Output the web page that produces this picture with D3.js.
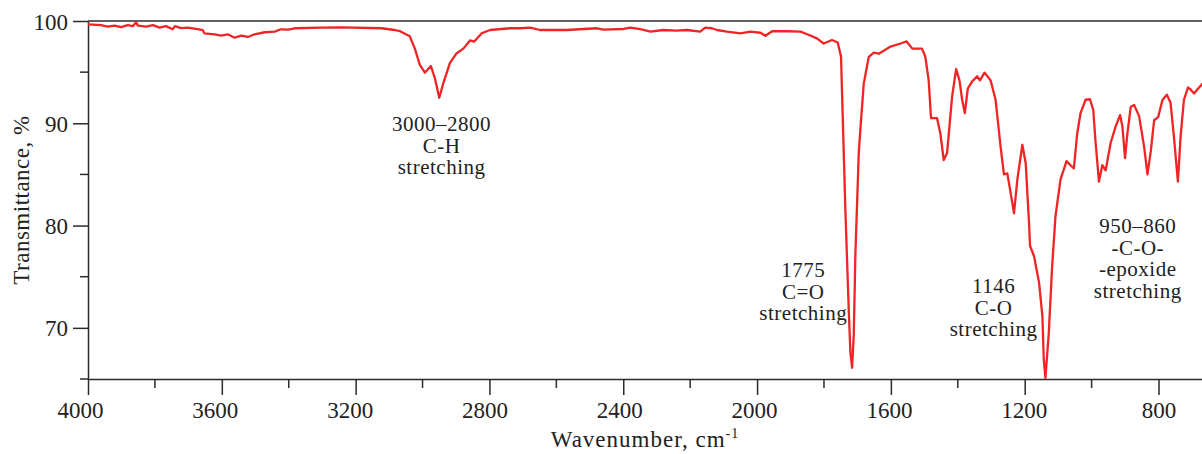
<!DOCTYPE html>
<html>
<head>
<meta charset="utf-8">
<script src="https://cdn.jsdelivr.net/npm/d3@7"></script>
<style>
  body { margin: 0; background: #fff; }
  svg text { font-family: "Liberation Serif", "DejaVu Serif", serif; fill: #222; }
</style>
</head>
<body>
<div id="chart"></div>
<script>
const width = 1202;
const height = 454;
const margin = {top: 21, right: 0, bottom: 75, left: 88};

// spectrum
const wavenumber = [4000, 3961, 3941, 3921, 3901, 3881, 3866, 3856, 3851, 3826, 3806, 3786, 3767, 3747, 3740, 3722, 3702, 3672, 3657, 3652,
  3622, 3602, 3582, 3562, 3542, 3522, 3502, 3472, 3442, 3423, 3402, 3382, 3303, 3243, 3123, 3083, 3067, 3038, 3023, 3008,
  2993, 2975, 2963, 2950, 2938, 2918, 2898, 2878, 2858, 2846, 2823, 2798, 2738, 2708, 2678, 2649, 2569, 2479, 2459, 2399,
  2379, 2349, 2319, 2280, 2240, 2210, 2170, 2155, 2135, 2120, 2090, 2050, 2020, 1990, 1975, 1955, 1910, 1870, 1850, 1821,
  1801, 1776, 1759, 1749, 1746, 1736, 1726, 1721, 1716, 1711, 1706, 1696, 1691, 1681, 1666, 1651, 1636, 1601, 1571, 1553,
  1536, 1507, 1497, 1487, 1480, 1462, 1452, 1442, 1432, 1417, 1405, 1395, 1387, 1379, 1370, 1357, 1342, 1334, 1320, 1302,
  1287, 1272, 1262, 1252, 1242, 1232, 1222, 1207, 1197, 1187, 1184, 1172, 1157, 1147, 1143, 1138, 1128, 1118, 1108, 1093,
  1075, 1063, 1053, 1043, 1033, 1018, 1005, 995, 988, 978, 968, 958, 943, 928, 915, 908, 900, 893, 883, 873,
  858, 843, 833, 823, 813, 801, 788, 775, 764, 754, 742, 734, 724, 712, 704, 694, 684, 668];
const transmittance = [99.68, 99.6, 99.45, 99.55, 99.4, 99.6, 99.5, 99.87, 99.55, 99.45, 99.6, 99.35, 99.5, 99.2, 99.5, 99.3, 99.35, 99.2, 99.1, 98.8,
  98.7, 98.56, 98.7, 98.37, 98.56, 98.44, 98.7, 98.9, 98.96, 99.19, 99.15, 99.29, 99.35, 99.38, 99.29, 99.12, 99.0, 98.5, 97.3, 95.7,
  94.95, 95.6, 94.4, 92.5, 93.9, 95.9, 96.85, 97.3, 98.1, 97.98, 98.8, 99.12, 99.29, 99.29, 99.35, 99.12, 99.12, 99.29, 99.15, 99.22,
  99.35, 99.2, 98.96, 99.12, 99.05, 99.12, 98.96, 99.35, 99.29, 99.12, 98.96, 98.8, 98.96, 98.85, 98.56, 99.0, 99.0, 98.96, 98.7, 98.3,
  97.8, 98.14, 97.9, 96.5, 93.0, 81.5, 71.8, 67.6, 66.1, 69.3, 77.3, 87.1, 89.5, 93.9, 96.5, 96.9, 96.8, 97.5, 97.8, 98.0,
  97.3, 97.3, 96.5, 94.2, 90.5, 90.5, 89.0, 86.4, 87.1, 92.6, 95.3, 94.2, 92.3, 91.0, 93.4, 94.1, 94.6, 94.2, 94.95, 94.2,
  92.3, 87.7, 85.0, 85.1, 83.2, 81.2, 84.5, 87.9, 86.1, 80.2, 78.0, 77.0, 74.4, 71.1, 66.9, 65.1, 69.5, 76.0, 80.9, 84.5,
  86.3, 85.9, 85.6, 89.0, 91.0, 92.3, 92.35, 91.3, 88.1, 84.3, 85.9, 85.4, 88.1, 89.7, 90.8, 89.7, 86.6, 89.0, 91.6, 91.8,
  90.7, 87.7, 85.0, 87.3, 90.3, 90.6, 92.3, 92.8, 92.0, 88.7, 84.3, 88.7, 92.3, 93.5, 93.3, 92.9, 93.3, 93.9];

const xMajor = [4000, 3600, 3200, 2800, 2400, 2000, 1600, 1200, 800];
const xMinor = [3800, 3400, 3000, 2600, 2200, 1800, 1400, 1000];
const yMajor = [70, 80, 90, 100];
const yMinor = [65, 75, 85, 95];

// label centre (wavenumber) and baseline of first line
const notes = [
  {w: 2943, lines: ["3000\u20132800", "C-H", "stretching"], top: 131},
  {w: 1862, lines: ["1775", "C=O", "stretching"], top: 277},
  {w: 1293, lines: ["1146", "C-O", "stretching"], top: 293},
  {w: 862, lines: ["950\u2013860", "-C-O-", "-epoxide", "stretching"], top: 233}
];

const serif = "'Liberation Serif', 'DejaVu Serif', serif";

const svg = d3.select("#chart").append("svg")
  .attr("width", width)
  .attr("height", height)
  .attr("font-family", serif);

const x = d3.scaleLinear().domain([4000, 670]).range([margin.left, width - margin.right]);
const y = d3.scaleLinear().domain([65, 100]).range([height - margin.bottom, margin.top]);

const axisColor = "#2b2b2b";

// x axis
const gx = svg.append("g")
  .attr("transform", `translate(0, ${y(65)})`)
  .call(d3.axisBottom(x).tickValues(xMajor).tickFormat(d3.format("d"))
    .tickSize(16).tickSizeOuter(0).tickPadding(6));
gx.attr("font-family", serif).attr("font-size", 23);
// labels in the original sit a little left of their ticks on the high-wavenumber side
gx.selectAll(".tick text").attr("dy", "0.75em").attr("dx", d => -(d - 800) / 400);
gx.append("g").selectAll("line").data(xMinor).join("line")
  .attr("x1", d => x(d)).attr("x2", d => x(d))
  .attr("y1", 0).attr("y2", 9);

// y axis
const gy = svg.append("g")
  .attr("transform", `translate(${margin.left}, 0)`)
  .call(d3.axisLeft(y).tickValues(yMajor).tickFormat(d3.format("d"))
    .tickSize(15).tickSizeOuter(0).tickPadding(5));
gy.attr("font-family", serif).attr("font-size", 23);
gy.selectAll(".tick text").attr("dy", "0.35em");
gy.append("g").selectAll("line").data(yMinor).join("line")
  .attr("x1", 0).attr("x2", -8)
  .attr("y1", d => y(d)).attr("y2", d => y(d));

svg.selectAll(".domain").attr("stroke", axisColor).attr("stroke-width", 1.5);
svg.selectAll("g line").attr("stroke", axisColor).attr("stroke-width", 1.5);
svg.selectAll(".tick text").attr("fill", "#222");

// top frame line
svg.append("line")
  .attr("x1", margin.left).attr("x2", width)
  .attr("y1", y(100)).attr("y2", y(100))
  .attr("stroke", axisColor).attr("stroke-width", 1.5);

// spectrum
svg.append("defs").append("clipPath").attr("id", "clip")
  .append("rect").attr("x", margin.left).attr("y", margin.top - 5)
  .attr("width", width - margin.left).attr("height", y(65) - margin.top + 5);

const points = wavenumber.map((w, i) => [x(w), y(transmittance[i])]);
svg.append("path")
  .attr("clip-path", "url(#clip)")
  .attr("fill", "none")
  .attr("stroke", "#f02424")
  .attr("stroke-width", 2.3)
  .attr("stroke-linejoin", "round")
  .attr("d", d3.line()(points));

// annotations
notes.forEach(n => {
  const t = svg.append("text")
    .attr("text-anchor", "middle")
    .attr("font-size", 21)
    .attr("letter-spacing", 0.5);
  n.lines.forEach((s, i) => {
    t.append("tspan").attr("x", x(n.w)).attr("y", n.top + i * 21.5).text(s);
  });
});

// axis titles
const xt = svg.append("text")
  .attr("x", (margin.left + width) / 2)
  .attr("y", 447)
  .attr("text-anchor", "middle")
  .attr("font-size", 23)
  .attr("letter-spacing", 1)
  .text("Wavenumber, cm");
xt.append("tspan").attr("font-size", 14).attr("dy", -9).text("-1");

svg.append("text")
  .attr("transform", `translate(29, ${(margin.top + y(65)) / 2}) rotate(-90)`)
  .attr("text-anchor", "middle")
  .attr("font-size", 23)
  .attr("letter-spacing", 0.5)
  .text("Transmittance, %");
</script>
</body>
</html>
